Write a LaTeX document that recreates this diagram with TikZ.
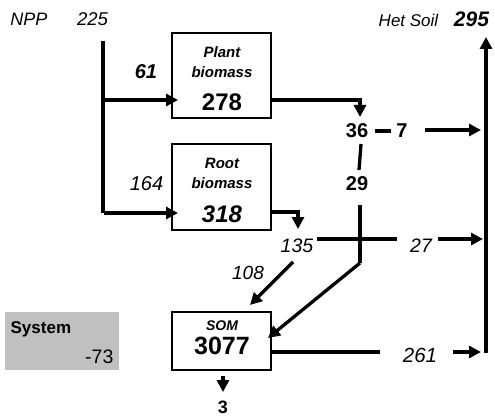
\documentclass[tikz,border=0pt]{standalone}
\usepackage{fontspec}
\setmainfont{Liberation Sans}
\usetikzlibrary{arrows.meta}
\newcommand{\fsz}[1]{\fontsize{#1}{#1}\selectfont}
\tikzset{
  pool/.style={draw, line width=1.3pt, minimum width=99pt, inner sep=0pt},
  lbl/.style={anchor=base, inner sep=0pt},
}

\begin{document}
\begin{tikzpicture}[x=1pt, y=-1pt, line width=3.3pt, >={Triangle[length=12pt,width=12pt]}]
                \useasboundingbox (0,0) rectangle (495,417);

                % Pools
                \node [pool, minimum height=85pt] (plant) at (221.5,75.5) {};
                \node [pool, minimum height=86pt] (root) at (221.5,187) {};
                \node [pool, minimum height=58pt] (som) at (221.5,341) {};
                \node [fill={rgb,255:red,192;green,192;blue,192}, minimum width=114pt, minimum height=58pt, inner sep=0pt] (sys) at (62,341) {};

                % Texts in the pools
                \node [lbl, font=\fsz{15}\bfseries\itshape] (plantName) at (222,58) {Plant};
                \node [lbl, font=\fsz{15}\bfseries\itshape] (plantBio) at (222,78) {biomass};
                \node [lbl, font=\fsz{24}\bfseries] (plantVal) at (222,111) {278};
                \node [lbl, font=\fsz{15}\bfseries\itshape] (rootName) at (222,168) {Root};
                \node [lbl, font=\fsz{15}\bfseries\itshape] (rootBio) at (222,188) {biomass};
                \node [lbl, font=\fsz{24}\bfseries\itshape] (rootVal) at (222,222) {318};
                \node [lbl, font=\fsz{14}\bfseries\itshape] (somName) at (222,330) {SOM};
                \node [lbl, font=\fsz{25}\bfseries] (somVal) at (222,354) {3077};
                \node [lbl, anchor=base west, font=\fsz{17}\bfseries] (sysName) at (9,333) {System};
                \node [lbl, anchor=base east, font=\fsz{19.5}] (sysVal) at (115,363) {-73};

                % Labels
                \node [lbl, font=\fsz{18}\itshape] (npp) at (29,26) {NPP};
                \node [lbl, font=\fsz{18.5}\itshape] (nppVal) at (92.5,26) {225};
                \node [lbl, font=\fsz{17}\itshape] (het) at (408.5,27) {Het Soil};
                \node [lbl, font=\fsz{21}\bfseries\itshape] (hetVal) at (471.5,27) {295};
                \node [lbl, font=\fsz{20}\bfseries\itshape] (f61) at (146,79) {61};
                \node [lbl, font=\fsz{20}\itshape] (f164) at (146.5,190) {164};
                \node [lbl, font=\fsz{20}\bfseries] (f36) at (357,137) {36};
                \node [lbl, font=\fsz{20}\bfseries] (f7) at (402,137) {7};
                \node [lbl, font=\fsz{20}\bfseries] (f29) at (357,190) {29};
                \node [lbl, font=\fsz{19.5}\itshape] (f135) at (297,252) {135};
                \node [lbl, font=\fsz{19.5}\itshape] (f27) at (421,252) {27};
                \node [lbl, font=\fsz{19}\itshape] (f108) at (248,279) {108};
                \node [lbl, font=\fsz{20.5}\itshape] (f261) at (420,362) {261};
                \node [lbl, font=\fsz{18}\bfseries] (f3) at (223,413) {3};

                % Inputs
                \coordinate (nppTop) at (103,41);
                \coordinate (nppBot) at (103,213);
                \coordinate (at61) at (104,100);
                \coordinate (at164) at (104,213);
                \draw (nppTop) -- (nppBot);
                \draw [->] (at61) -- (at61 -| 178,0);
                \draw [->] (at164) -- (at164 -| 178,0);

                % Litter from plant and root
                \coordinate (plantOut) at (plant.east |- 0,100);
                \coordinate (plantBend) at (360,100);
                \coordinate (plantDrop) at (360,117);
                \draw [->] (plantOut) -- (plantBend) -- (plantDrop);
                \coordinate (rootOut) at (root.east |- 0,212);
                \coordinate (rootBend) at (298,212);
                \coordinate (rootDrop) at (298,229);
                \draw [->] (rootOut) -- (rootBend) -- (rootDrop);

                % Respiration
                \coordinate (dashA) at (375,131);
                \coordinate (dashB) at (391,131);
                \draw [line cap=butt] (dashA) -- (dashB);
                \coordinate (at7) at (425,130);
                \coordinate (het7) at (481,130);
                \draw [->] (at7) -- (het7);
                \coordinate (line135A) at (317,239);
                \coordinate (line135B) at (397,239);
                \draw (line135A) -- (line135B);
                \coordinate (at27) at (438,239);
                \coordinate (het27) at (483,239);
                \draw [->] (at27) -- (het27);
                \coordinate (at261) at (453,352);
                \coordinate (het261) at (481,352);
                \draw (som.east |- 0,352) -- (380,352);
                \draw [->] (at261) -- (het261);
                \coordinate (hetBot) at (486,353);
                \coordinate (hetTop) at (486,37);
                \draw [->] (hetBot) -- (hetTop);

                % Transfers to SOM
                \coordinate (up29A) at (361,144);
                \coordinate (up29B) at (359,170);
                \draw (up29A) -- (up29B);
                \coordinate (low29) at (360,205);
                \coordinate (cross29) at (360,263);
                \draw (low29) -- (cross29);
                \coordinate (somIn29) at (268,338);
                \draw [->] (cross29) -- (somIn29);
                \coordinate (from108) at (293,262);
                \coordinate (somIn108) at (250,305);
                \draw [->] (from108) -- (somIn108);

                % Leaching
                \coordinate (somDown) at (223,376);
                \coordinate (leach) at (223,392);
                \draw [->] (somDown) -- (leach);
\end{tikzpicture}
\end{document}
